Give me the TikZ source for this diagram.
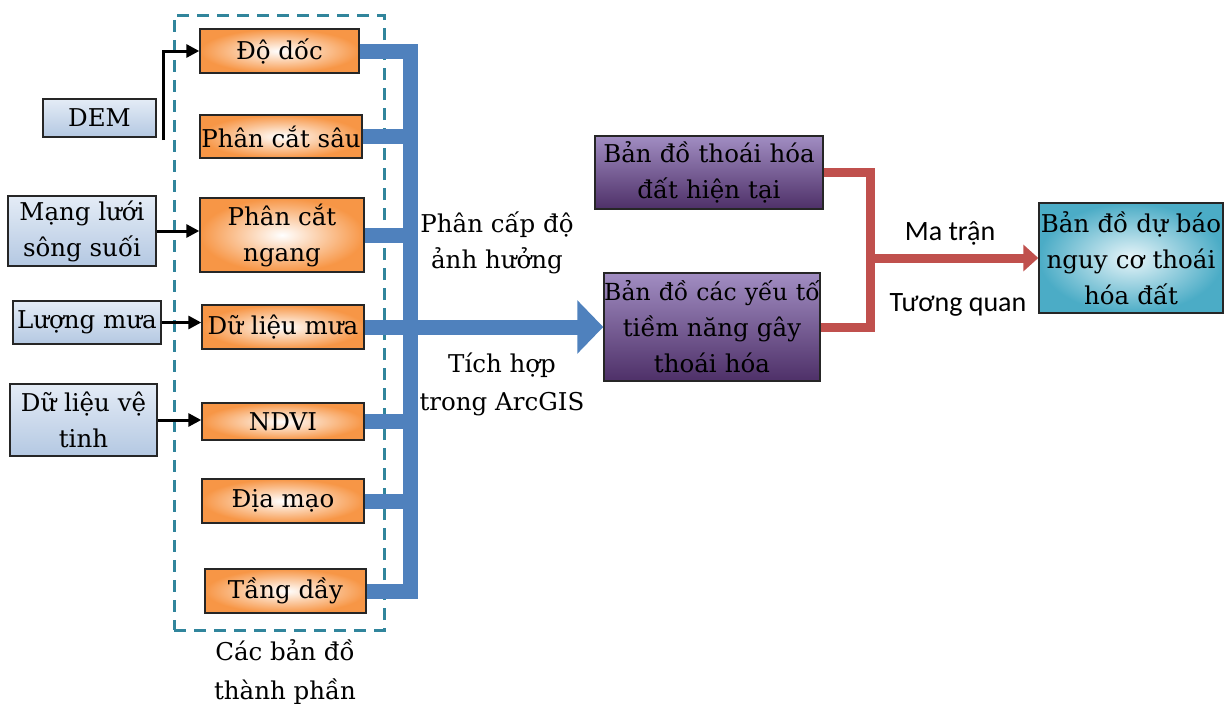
\documentclass[tikz,border=0pt]{standalone}
\usepackage{fontspec}
\setmainfont{DejaVu Serif}
\newfontfamily\calib{Carlito}
\usetikzlibrary{arrows.meta,calc}
\definecolor{orangeE}{HTML}{F79646}
\definecolor{inTop}{HTML}{E4ECF6}
\definecolor{inBot}{HTML}{B4C8E2}
\definecolor{purT}{HTML}{A18DC2}
\definecolor{purB}{HTML}{4E3068}
\definecolor{cyanE}{HTML}{4BACC6}
\definecolor{cyanI}{HTML}{E8F5F9}
\definecolor{busblue}{HTML}{4F81BD}
\definecolor{redc}{HTML}{C0504D}
\definecolor{tealc}{HTML}{31859C}
\begin{document}
\begin{tikzpicture}[x=1pt,y=-1pt,
  txt/.style={font=\fontsize{24.5}{36}\selectfont, align=center, inner sep=0pt},
  box/.style={txt, draw=black!85, line width=1.4pt},
  obox/.style={box, shading=radial, inner color=white, outer color=orangeE},
  ibox/.style={box, top color=inTop, bottom color=inBot},
  pbox/.style={box, top color=purT, bottom color=purB},
  cbox/.style={box, shading=radial, inner color=cyanI, outer color=cyanE},
  grp/.style={draw=tealc, line width=3pt, dash pattern=on 12pt off 8pt},
  blk/.style={draw=black, line width=3pt, -{Triangle[length=13pt,width=13pt]}},
  bus/.style={draw=busblue, line width=15pt, line join=miter},
  redl/.style={draw=redc, line width=9pt, line join=miter},
  stxt/.style={font=\calib\fontsize{28}{32}\selectfont, inner sep=0pt}
]
\useasboundingbox (0,0) rectangle (1224,704);

% group (dashed)
\node[grp, minimum width=210pt, minimum height=615pt] (grp) at (279,322.5) {};
\node[txt, font=\fontsize{24.5}{39}\selectfont] (grplabel) at (285,672) {Các bản đồ\\thành phần};

% orange component maps
\node[obox, minimum width=159pt, minimum height=44pt] (dodoc)   at (279.5,51)  {Độ dốc};
\node[obox, minimum width=162pt, minimum height=43pt] (pcsau)   at (281,136.5) {Phân cắt sâu};
\node[obox, minimum width=164pt, minimum height=74pt] (pcngang) at (282,235)   {Phân cắt\\ngang};
\node[obox, minimum width=162pt, minimum height=44pt] (dlmua)   at (283,327)   {Dữ liệu mưa};
\node[obox, minimum width=162pt, minimum height=37pt] (ndvi)    at (283,421.5) {NDVI};
\node[obox, minimum width=162pt, minimum height=44pt] (diamao)  at (283,501)   {Địa mạo};
\node[obox, minimum width=161pt, minimum height=44pt] (tangday) at (285.5,591) {Tầng dầy};

% inputs
\node[ibox, minimum width=113pt, minimum height=38pt] (dem)      at (99.5,118)  {DEM};
\node[ibox, minimum width=148pt, minimum height=70pt] (mangluoi) at (82,231)    {Mạng lưới\\sông suối};
\node[ibox, minimum width=148pt, minimum height=43pt] (luongmua) at (87,322.5)  {Lượng mưa};
\node[ibox, minimum width=147pt, minimum height=72pt] (vetinh)   at (83.5,420)  {Dữ liệu vệ\\tinh};

% purple maps
\node[pbox, text width=228pt, minimum height=73pt]  (hientai) at (709,172.5) {Bản đồ thoái hóa\\đất hiện tại};
\node[pbox, text width=216pt, minimum height=108pt] (yeuto)   at (712,327)
  {\makebox[\linewidth][c]{\fontsize{23.5}{36}\selectfont Bản đồ các yếu tố}\\tiềm năng gây\\thoái hóa};

% result
\node[cbox, text width=184pt, minimum height=110pt] (dubao) at (1131,258) {Bản đồ dự báo\\nguy cơ thoái\\hóa đất};

% black input arrows
\coordinate (demstart) at (163,140);
\draw[blk] (demstart) |- (dodoc.west);
\draw[blk] (mangluoi.east) -- (mangluoi.east -| pcngang.west);
\draw[blk] (luongmua.east) -- (luongmua.east -| dlmua.west);
\draw[blk] (vetinh.east) -- (vetinh.east -| ndvi.west);

% blue bus
\coordinate (busB) at ($(tangday.east)+(44,0)$);
\draw[bus] (dodoc.east) -| (busB) -- (tangday.east);
\draw[bus] (pcsau.east) -- (pcsau.east -| busB);
\draw[bus] (pcngang.east) -- (pcngang.east -| busB);
\draw[bus] (ndvi.east) -- (ndvi.east -| busB);
\draw[bus] (diamao.east) -- (diamao.east -| busB);
\draw[bus, -{Triangle[length=26pt,width=52pt]}] (dlmua.east) -- (yeuto.west);

\node[txt] (phancap) at (497,243) {Phân cấp độ\\ảnh hưởng};
\node[txt, font=\fontsize{24.5}{38}\selectfont] (tichhop) at (502,384) {Tích hợp\\trong ArcGIS};

% red connectors
\coordinate (rj) at (870,258);
\draw[redl] (hientai.east) -| (rj) |- (yeuto.east);
\draw[redl, -{Triangle[length=15pt,width=26pt]}] (rj) -- (dubao.west);

\node[stxt] (matran) at (950,233) {Ma trận};
\node[stxt] (tuongquan) at (958,305) {Tương quan};
\end{tikzpicture}
\end{document}
